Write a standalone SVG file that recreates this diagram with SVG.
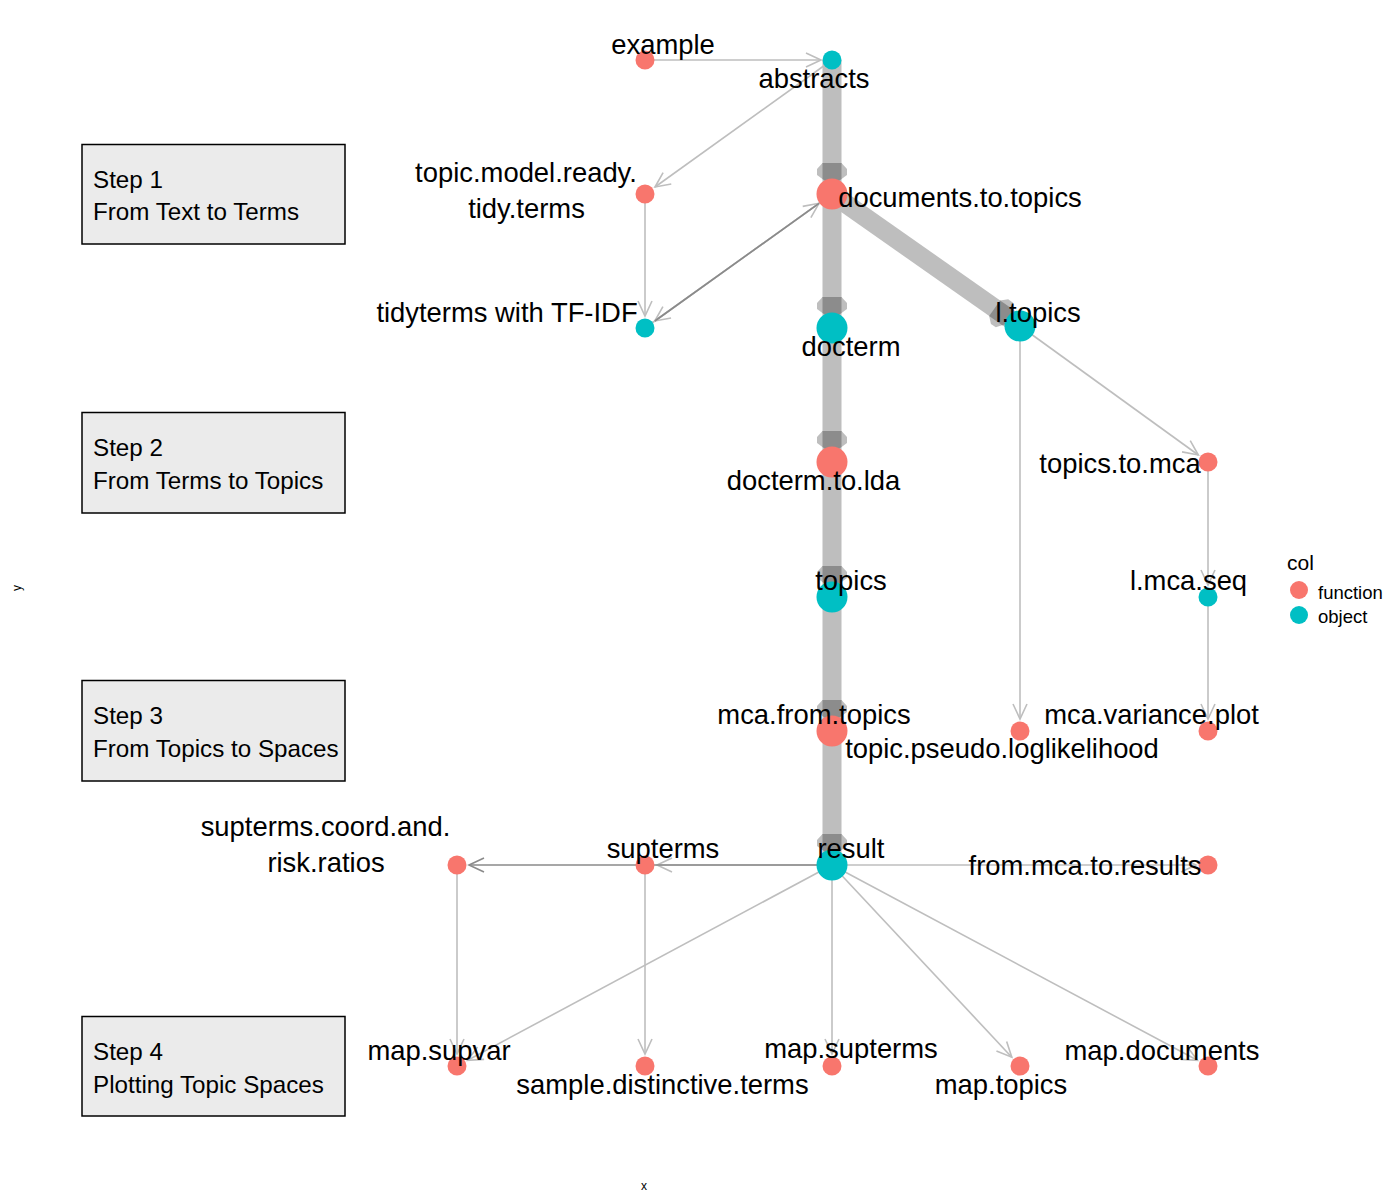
<svg xmlns="http://www.w3.org/2000/svg" xmlns:xlink="http://www.w3.org/1999/xlink" width="1400" height="1200" viewBox="0 0 1400 1200">
<style>
  text { font-family: "Liberation Sans", Arial, sans-serif; fill: #000; }
  .lbl { font-size: 27.4px; text-anchor: middle; }
  .step { font-size: 24.2px; }
  .box { fill: #EBEBEB; stroke: #000; stroke-width: 1.5; }
  .thin { fill: none; stroke: #BEBEBE; stroke-width: 1.6; }
  .dark { fill: none; stroke: #8A8A8A; stroke-width: 1.6; }
  .thick { fill: none; stroke: #BEBEBE; stroke-width: 19; }
  .fn { fill: #F8766D; }
  .ob { fill: #00BFC4; }
  .axis { font-size: 12px; }
</style>
<defs>
  <marker id="ahl" viewBox="-17 -9 18 18" refX="0" refY="0" markerWidth="18" markerHeight="18" markerUnits="userSpaceOnUse" orient="auto" overflow="visible">
    <path d="M-15,-7 L0,0 L-15,7" fill="none" stroke="#BEBEBE" stroke-width="1.6"/>
  </marker>
  <marker id="ahd" viewBox="-17 -9 18 18" refX="0" refY="0" markerWidth="18" markerHeight="18" markerUnits="userSpaceOnUse" orient="auto" overflow="visible">
    <path d="M-15,-7 L0,0 L-15,7" fill="none" stroke="#8A8A8A" stroke-width="1.6"/>
  </marker>
  <g id="thickhead">
    <polygon points="-31,-9.5 -25,-15 -19,-15 -8,0 -19,15 -25,15 -31,9.5" fill="#BEBEBE"/>
    <polygon points="-31,-9.5 -15,-9.5 -8,0 -15,9.5 -31,9.5" fill="#8C8C8C"/>
  </g>
</defs>
<rect width="1400" height="1200" fill="#FFFFFF"/>

<g id="steps">
  <g id="step1"><rect class="box" x="82" y="144.5" width="263" height="99.5"/><text class="step" x="93" y="188">Step 1</text><text class="step" x="93" y="220">From Text to Terms</text></g>
  <g id="step2"><rect class="box" x="82" y="412.5" width="263" height="100.5"/><text class="step" x="93" y="456">Step 2</text><text class="step" x="93" y="489">From Terms to Topics</text></g>
  <g id="step3"><rect class="box" x="82" y="680.5" width="263" height="100.5"/><text class="step" x="93" y="724">Step 3</text><text class="step" x="93" y="757">From Topics to Spaces</text></g>
  <g id="step4"><rect class="box" x="82" y="1016.5" width="263" height="99.5"/><text class="step" x="93" y="1060">Step 4</text><text class="step" x="93" y="1093">Plotting Topic Spaces</text></g>
</g>

<g id="connectors">
  <line class="thick" x1="832" y1="60" x2="832" y2="865"/>
  <line class="thick" x1="832" y1="194" x2="1020" y2="326"/>
  <use xlink:href="#thickhead" transform="translate(832,194) rotate(90)"/>
  <use xlink:href="#thickhead" transform="translate(832,328) rotate(90)"/>
  <use xlink:href="#thickhead" transform="translate(832,462) rotate(90)"/>
  <use xlink:href="#thickhead" transform="translate(832,597) rotate(90)"/>
  <use xlink:href="#thickhead" transform="translate(832,731) rotate(90)"/>
  <use xlink:href="#thickhead" transform="translate(832,865) rotate(90)"/>
  <use xlink:href="#thickhead" transform="translate(1020,326) rotate(35.07)"/>

  <line class="thin" x1="645" y1="60" x2="821" y2="60" marker-end="url(#ahl)"/>
  <line class="thin" x1="832" y1="60" x2="655" y2="187" marker-end="url(#ahl)"/>
  <line class="thin" x1="645" y1="194" x2="645" y2="316" marker-end="url(#ahl)"/>
  <line class="thin" x1="645" y1="328" x2="819" y2="203.3" marker-end="url(#ahl)"/>
  <line class="thin" x1="832" y1="194" x2="654.8" y2="321" marker-end="url(#ahl)"/>
  <line class="dark" x1="654.8" y1="321" x2="819" y2="203.3"/>
  <line class="thin" x1="1020" y1="326" x2="1198.3" y2="455" marker-end="url(#ahl)"/>
  <line class="thin" x1="1208" y1="462" x2="1208" y2="585" marker-end="url(#ahl)"/>
  <line class="thin" x1="1208" y1="597" x2="1208" y2="719" marker-end="url(#ahl)"/>
  <line class="thin" x1="1020" y1="326" x2="1020" y2="719" marker-end="url(#ahl)"/>
  <line class="thin" x1="832" y1="865" x2="657" y2="865" marker-end="url(#ahl)"/>
  <line class="dark" x1="832" y1="865" x2="469" y2="865" marker-end="url(#ahd)"/>
  <line class="thin" x1="832" y1="865" x2="1196" y2="865" marker-end="url(#ahl)"/>
  <line class="thin" x1="832" y1="865" x2="467.6" y2="1060.3" marker-end="url(#ahl)"/>
  <line class="thin" x1="457" y1="865" x2="457" y2="1054" marker-end="url(#ahl)"/>
  <line class="thin" x1="645" y1="865" x2="645" y2="1054" marker-end="url(#ahl)"/>
  <line class="thin" x1="832" y1="865" x2="832" y2="1054" marker-end="url(#ahl)"/>
  <line class="thin" x1="832" y1="865" x2="1011.8" y2="1057.2" marker-end="url(#ahl)"/>
  <line class="thin" x1="832" y1="865" x2="1197.4" y2="1060.3" marker-end="url(#ahl)"/>
</g>

<g id="nodes">
  <g id="n-example"><circle class="fn" cx="645" cy="60" r="9.5"/></g>
  <g id="n-abstracts"><circle class="ob" cx="832" cy="60" r="9.5"/></g>
  <g id="n-topic-model-ready"><circle class="fn" cx="645" cy="194" r="9.5"/></g>
  <g id="n-documents-to-topics"><circle class="fn" cx="832" cy="194" r="15.5"/></g>
  <g id="n-tidyterms"><circle class="ob" cx="645" cy="328" r="9.5"/></g>
  <g id="n-docterm"><circle class="ob" cx="832" cy="328" r="15.5"/></g>
  <g id="n-l-topics"><circle class="ob" cx="1020" cy="326" r="15.5"/></g>
  <g id="n-docterm-to-lda"><circle class="fn" cx="832" cy="462" r="15.5"/></g>
  <g id="n-topics-to-mca"><circle class="fn" cx="1208" cy="462" r="9.5"/></g>
  <g id="n-topics"><circle class="ob" cx="832" cy="597" r="15.5"/></g>
  <g id="n-l-mca-seq"><circle class="ob" cx="1208" cy="597" r="9.5"/></g>
  <g id="n-mca-from-topics"><circle class="fn" cx="832" cy="731" r="15.5"/></g>
  <g id="n-topic-pseudo"><circle class="fn" cx="1020" cy="731" r="9.5"/></g>
  <g id="n-mca-variance-plot"><circle class="fn" cx="1208" cy="731" r="9.5"/></g>
  <g id="n-result"><circle class="ob" cx="832" cy="865" r="15.5"/></g>
  <g id="n-supterms"><circle class="fn" cx="645" cy="865" r="9.5"/></g>
  <g id="n-supterms-coord"><circle class="fn" cx="457" cy="865" r="9.5"/></g>
  <g id="n-from-mca-to-results"><circle class="fn" cx="1208" cy="865" r="9.5"/></g>
  <g id="n-map-supvar"><circle class="fn" cx="457" cy="1066" r="9.5"/></g>
  <g id="n-sample-distinctive-terms"><circle class="fn" cx="645" cy="1066" r="9.5"/></g>
  <g id="n-map-supterms"><circle class="fn" cx="832" cy="1066" r="9.5"/></g>
  <g id="n-map-topics"><circle class="fn" cx="1020" cy="1066" r="9.5"/></g>
  <g id="n-map-documents"><circle class="fn" cx="1208" cy="1066" r="9.5"/></g>
</g>

<g id="labels">
  <text class="lbl" x="663" y="54">example</text>
  <text class="lbl" x="814" y="88">abstracts</text>
  <text class="lbl" x="526" y="182">topic.model.ready.</text>
  <text class="lbl" x="526.5" y="218">tidy.terms</text>
  <text class="lbl" x="960" y="207">documents.to.topics</text>
  <text class="lbl" x="507" y="322">tidyterms with TF-IDF</text>
  <text class="lbl" x="851" y="356">docterm</text>
  <text class="lbl" x="1038" y="322">l.topics</text>
  <text class="lbl" x="813.5" y="490">docterm.to.lda</text>
  <text class="lbl" x="1120" y="473">topics.to.mca</text>
  <text class="lbl" x="851" y="590">topics</text>
  <text class="lbl" x="1188.5" y="590">l.mca.seq</text>
  <text class="lbl" x="814" y="724">mca.from.topics</text>
  <text class="lbl" x="1002" y="758">topic.pseudo.loglikelihood</text>
  <text class="lbl" x="1151.5" y="724">mca.variance.plot</text>
  <text class="lbl" x="325.5" y="836">supterms.coord.and.</text>
  <text class="lbl" x="326" y="872">risk.ratios</text>
  <text class="lbl" x="663" y="858">supterms</text>
  <text class="lbl" x="851" y="858">result</text>
  <text class="lbl" x="1085" y="875">from.mca.to.results</text>
  <text class="lbl" x="439" y="1060">map.supvar</text>
  <text class="lbl" x="662.5" y="1094">sample.distinctive.terms</text>
  <text class="lbl" x="851" y="1058">map.supterms</text>
  <text class="lbl" x="1001" y="1094">map.topics</text>
  <text class="lbl" x="1162" y="1060">map.documents</text>
</g>

<g id="legend">
  <text x="1287" y="570" style="font-size:21px">col</text>
  <circle class="fn" cx="1299" cy="590" r="9"/>
  <circle class="ob" cx="1299" cy="615" r="9"/>
  <text x="1318" y="599" style="font-size:18.5px">function</text>
  <text x="1318" y="623" style="font-size:18.5px">object</text>
</g>

<g id="axes">
  <text class="axis" x="644" y="1190" text-anchor="middle">x</text>
  <text class="axis" x="0" y="0" text-anchor="middle" transform="translate(21,588) rotate(-90)">y</text>
</g>
</svg>
